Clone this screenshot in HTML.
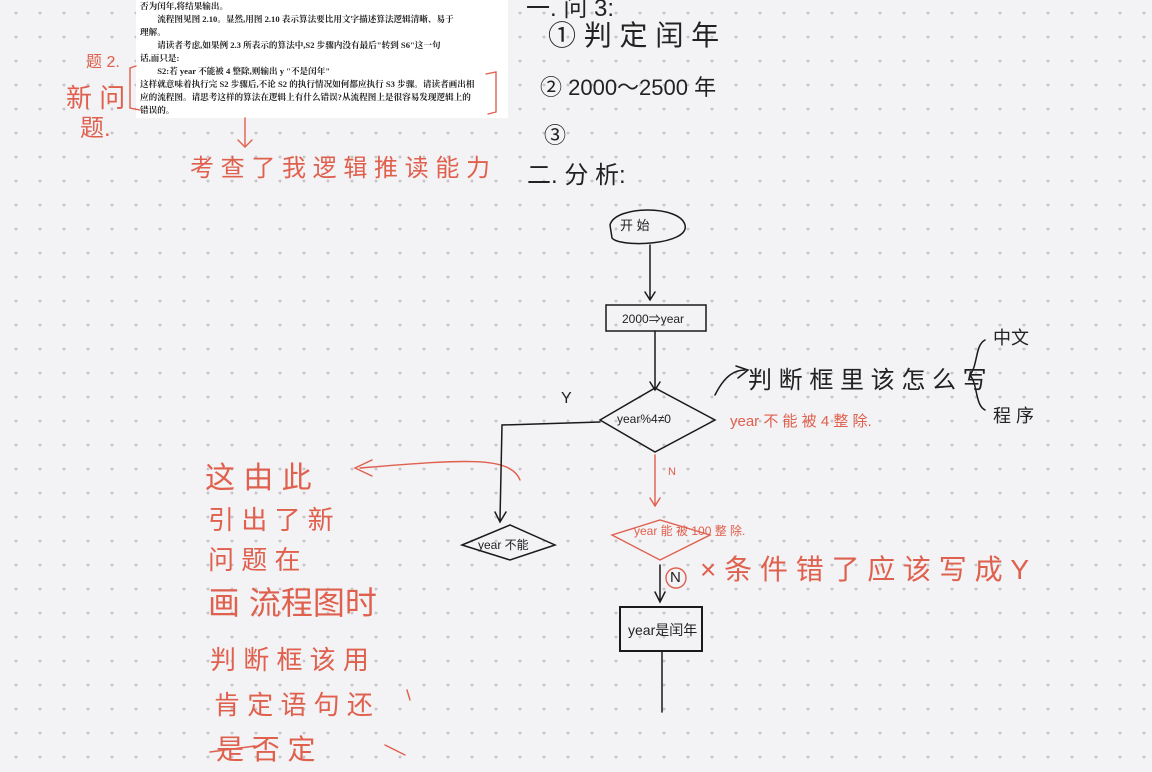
<!DOCTYPE html>
<html><head><meta charset="utf-8"><style>
html,body{margin:0;padding:0}
body{width:1152px;height:772px;overflow:hidden;position:relative;background-color:#f3f2f4;
background-image:radial-gradient(circle,#c6c6c8 1.3px,transparent 1.6px);background-size:24px 24px;background-position:4px 1px;
font-family:"Liberation Sans","Noto Sans CJK SC",sans-serif}
.snip{position:absolute;left:136px;top:0;width:372px;height:118px;background:#fff;font-family:"Liberation Serif","Noto Serif CJK SC",serif;font-size:8.6px;line-height:13px;color:#222;padding:0 4px;box-sizing:border-box;font-weight:bold;overflow:hidden}
.snip div{white-space:nowrap;height:13px}
.t{position:absolute;white-space:nowrap}
.r{color:#e0604e}
.k{color:#222}
</style></head><body>
<div class="snip">
<div>否为闰年,将结果输出。</div>
<div>&emsp;&emsp;流程图见图 2.10。显然,用图 2.10 表示算法要比用文字描述算法逻辑清晰、易于</div>
<div>理解。</div>
<div>&emsp;&emsp;请读者考虑,如果例 2.3 所表示的算法中,S2 步骤内没有最后"转到 S6"这一句</div>
<div>话,而只是:</div>
<div>&emsp;&emsp;S2:若 year 不能被 4 整除,则输出 y "不是闰年"</div>
<div>这样就意味着执行完 S2 步骤后,不论 S2 的执行情况如何都应执行 S3 步骤。请读者画出相</div>
<div>应的流程图。请思考这样的算法在逻辑上有什么错误?从流程图上是很容易发现逻辑上的</div>
<div>错误的。</div>
</div>
<svg width="1152" height="772" style="position:absolute;left:0;top:0" fill="none" stroke-linecap="round">
<g stroke="#e0604e" stroke-width="1.4">
<path d="M136 66 L130 68 L130 108 L140 110"/>
<path d="M486 74 L496 72 L496 112 L488 114"/>
<path d="M245 118 L245 145 M238 140 L245 147 L252 140"/>
<path d="M520 480 C510 455 460 460 360 468 M372 460 L355 468 L372 476"/>
<path d="M655 455 L655 505 M650 498 L655 506 L660 498"/>
<path d="M612 535 L660 520 L710 535 L660 560 Z"/>
<circle cx="676" cy="578" r="10"/>
<path d="M210 752 L255 746 M385 745 L405 755 M407 690 L410 700"/>
</g>
<g stroke="#1a1a1a" stroke-width="1.5">
<path d="M610 225 C615 205 680 205 685 225 C690 245 620 248 612 238 Z"/>
<path d="M650 245 L650 300 M645 292 L650 300 L655 292"/>
<rect x="606" y="305" width="100" height="26"/>
<path d="M655 331 L655 390 M650 382 L655 390 L660 382"/>
<path d="M600 420 L655 388 L715 420 L655 452 Z"/>
<path d="M600 422 L502 425 L500 520 M495 512 L500 522 L506 512"/>
<path d="M462 545 L510 525 L555 545 L510 560 Z"/>
<path d="M660 565 L660 600 M655 592 L660 602 L665 592"/>
<rect x="620" y="607" width="82" height="44" stroke-width="2"/>
<path d="M662 651 L662 712"/>
<path d="M715 395 C725 375 735 370 745 370 M736 366 L748 370 L738 378"/>
<path d="M985 340 C975 345 978 365 970 375 C978 385 975 405 985 410"/>
</g>
</svg>
<div class="t k" style="left:548px;top:14px;font-size:28px">① 判 定 闰 年</div>
<div class="t k" style="left:540px;top:70px;font-size:22px">② 2000～2500 年</div>
<div class="t k" style="left:544px;top:118px;font-size:22px">③</div>
<div class="t k" style="left:527px;top:155px;font-size:24px">二. 分 析:</div>
<div class="t k" style="left:526px;top:-12px;font-size:24px">一. 问 3:</div>
<div class="t k" style="left:620px;top:215px;font-size:13px">开 始</div>
<div class="t k" style="left:622px;top:310px;font-size:12px">2000⇒year</div>
<div class="t k" style="left:617px;top:412px;font-size:12px">year%4≠0</div>
<div class="t k" style="left:561px;top:390px;font-size:16px">Y</div>
<div class="t k" style="left:478px;top:536px;font-size:12px">year 不能</div>
<div class="t k" style="left:628px;top:620px;font-size:14px">year是闰年</div>
<div class="t k" style="left:748px;top:360px;font-size:24px">判 断 框 里 该 怎 么 写</div>
<div class="t k" style="left:993px;top:324px;font-size:18px">中文</div>
<div class="t k" style="left:993px;top:402px;font-size:18px">程 序</div>
<div class="t r" style="left:730px;top:410px;font-size:15px">year 不 能 被 4 整 除.</div>
<div class="t r" style="left:668px;top:466px;font-size:11px">N</div>
<div class="t r" style="left:634px;top:522px;font-size:12px">year 能 被 100 整 除.</div>
<div class="t k" style="left:670px;top:569px;font-size:15px">N</div>
<div class="t r" style="left:700px;top:548px;font-size:28px">× 条 件 错 了 应 该 写 成 Y</div>
<div class="t r" style="left:86px;top:48px;font-size:16px">题 2.</div>
<div class="t r" style="left:66px;top:78px;font-size:26px">新 问</div>
<div class="t r" style="left:80px;top:108px;font-size:24px">题.</div>
<div class="t r" style="left:190px;top:148px;font-size:24px">考 查 了 我 逻 辑 推 读 能 力</div>
<div class="t r" style="left:205px;top:453px;font-size:30px">这 由 此</div>
<div class="t r" style="left:208px;top:500px;font-size:26px">引 出 了 新</div>
<div class="t r" style="left:208px;top:540px;font-size:26px">问 题 在</div>
<div class="t r" style="left:208px;top:578px;font-size:32px">画 流程图时</div>
<div class="t r" style="left:210px;top:640px;font-size:26px">判 断 框 该 用</div>
<div class="t r" style="left:214px;top:685px;font-size:26px">肯 定 语 句 还</div>
<div class="t r" style="left:216px;top:728px;font-size:28px">是 否 定</div>
</body></html>
